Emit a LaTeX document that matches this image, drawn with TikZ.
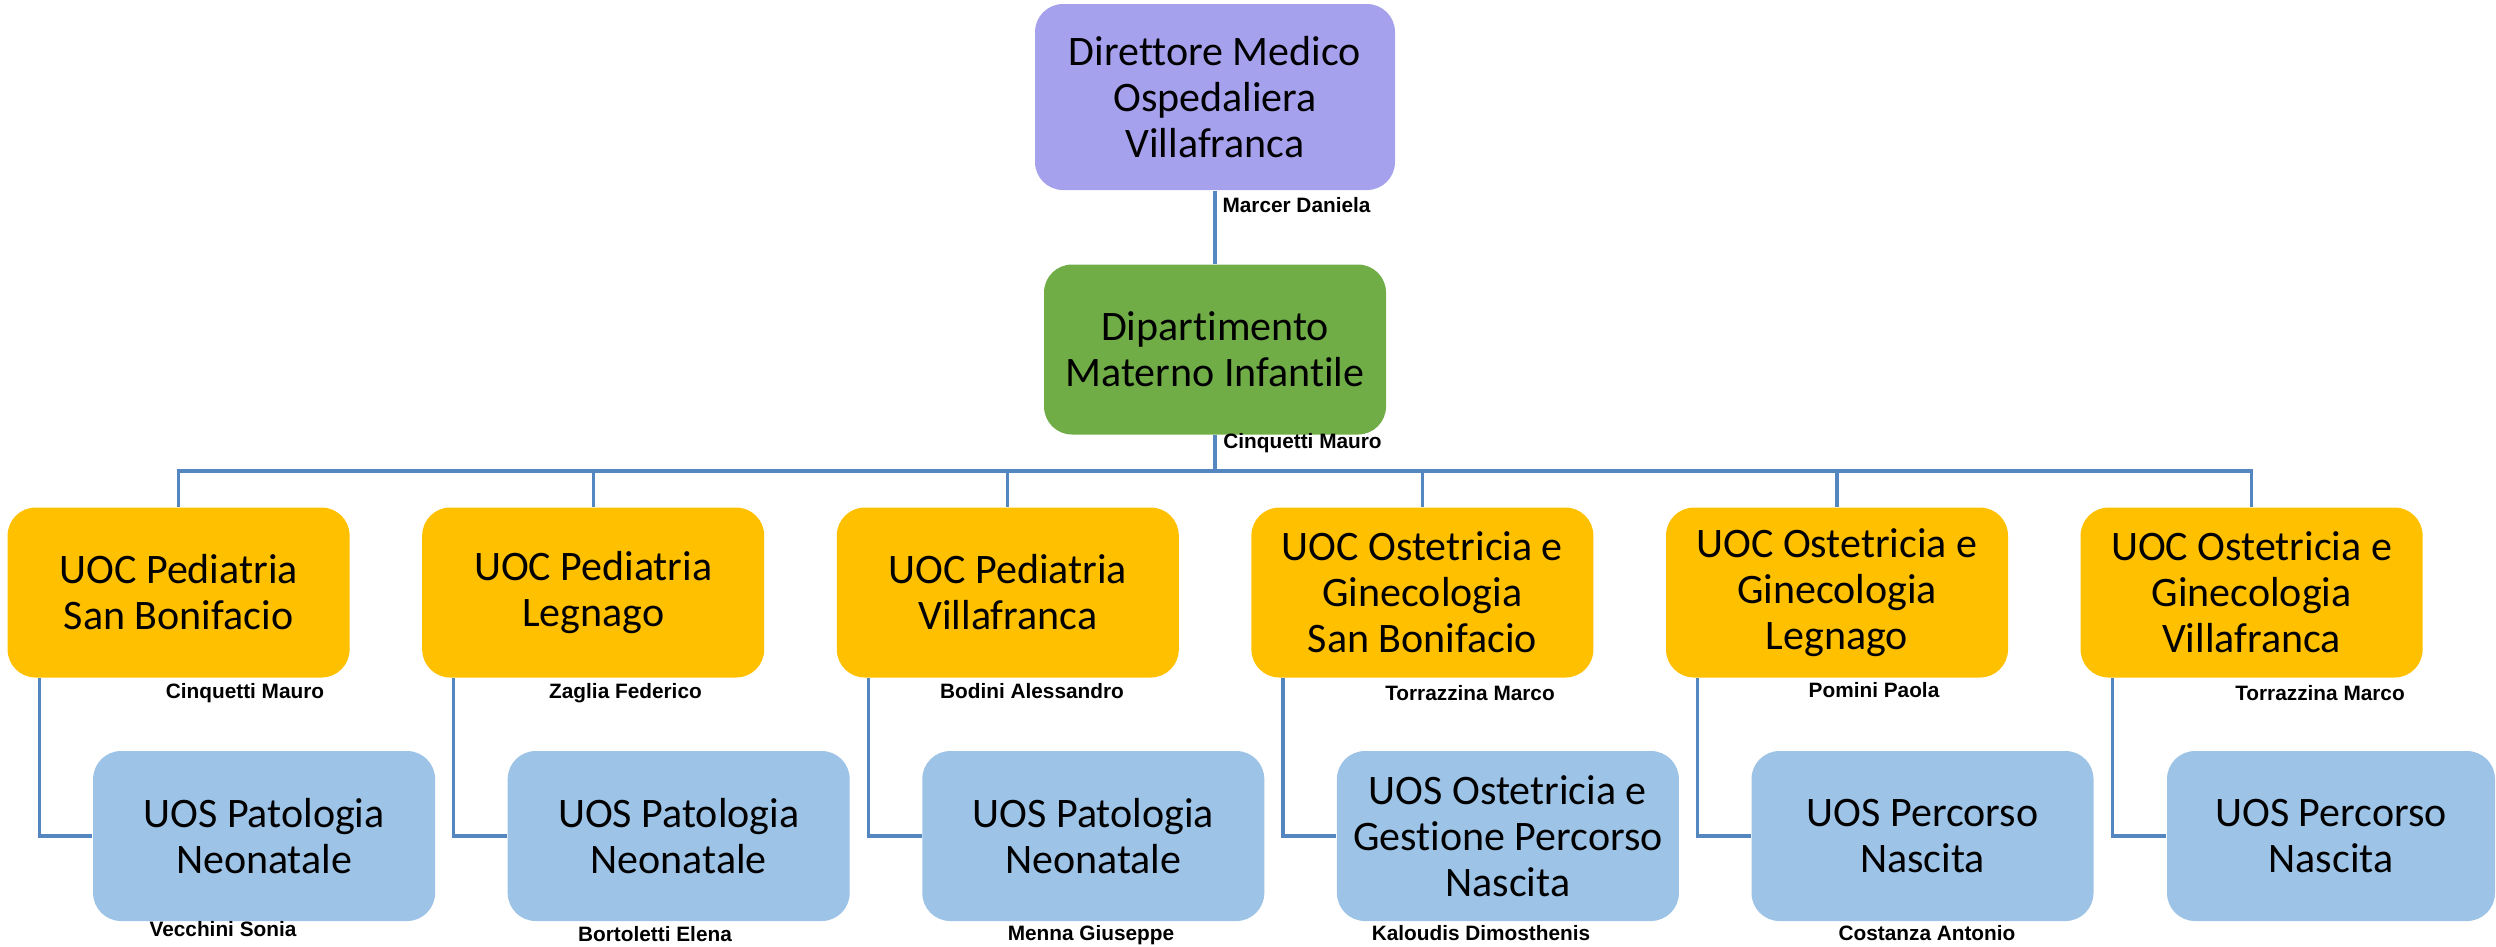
\documentclass[tikz,border=0pt]{standalone}
\usepackage{fontspec}
\setmainfont{Carlito}[Ligatures={NoCommon}]
\newfontfamily\namefont{Liberation Sans}
\definecolor{lavender}{RGB}{166,161,236}
\definecolor{leafgreen}{RGB}{112,173,71}
\definecolor{amber}{RGB}{255,192,0}
\definecolor{skyblue}{RGB}{157,195,230}
\definecolor{linkblue}{RGB}{84,135,192}

\begin{document}
\begin{tikzpicture}[x=0.25pt,y=-0.25pt,
  box/.style={rounded corners=7pt, align=center, inner sep=0pt, minimum width=85.5pt, minimum height=42.5pt, font=\fontsize{10.5}{11.5}\selectfont},
  dmobox/.style={box, fill=lavender, minimum width=90pt, minimum height=46.5pt},
  dipbox/.style={box, fill=leafgreen},
  uocbox/.style={box, fill=amber},
  uosbox/.style={box, fill=skyblue},
  who/.style={anchor=base, inner sep=0pt, font=\namefont\bfseries\fontsize{5.2}{6}\selectfont},
  link/.style={draw=linkblue, line width=0.8pt}]
\useasboundingbox (0,0) rectangle (2496,946);
\node[dmobox] (dmo) at (1215,97) {Direttore Medico\\Ospedaliera\\Villafranca};
\node[dipbox] (dip) at (1215,349.5) {Dipartimento\\Materno Infantile};
\coordinate (bus) at (1215,471);
\node[uocbox] (uoc1) at (178.6,592.5) {UOC Pediatria\\San Bonifacio};
\node[uocbox] (uoc2) at (593.2,592.5) {UOC Pediatria\\Legnago};
\node[uocbox] (uoc3) at (1007.8,592.5) {UOC Pediatria\\Villafranca};
\node[uocbox] (uoc4) at (1422.4,592.5) {UOC Ostetricia e\\Ginecologia\\San Bonifacio};
\node[uocbox] (uoc5) at (1837,592.5) {UOC Ostetricia e\\Ginecologia\\Legnago};
\node[uocbox] (uoc6) at (2251.6,592.5) {UOC Ostetricia e\\Ginecologia\\Villafranca};
\node[uosbox] (uos1) at (264.1,836) {UOS Patologia\\Neonatale};
\node[uosbox] (uos2) at (678.7,836) {UOS Patologia\\Neonatale};
\node[uosbox] (uos3) at (1093.3,836) {UOS Patologia\\Neonatale};
\node[uosbox] (uos4) at (1507.9,836) {UOS Ostetricia e\\Gestione Percorso\\Nascita};
\node[uosbox] (uos5) at (1922.5,836) {UOS Percorso\\Nascita};
\node[uosbox, minimum width=82pt] (uos6) at (2331,836) {UOS Percorso\\Nascita};
\draw[link] (dmo.south) -- (dip.north);
\draw[link] (dip.south) -- (bus);
\foreach \k in {1,...,6} \draw[link] (uoc\k.north) |- (bus);
\foreach \k in {1,...,6} \draw[link] ([xshift=8.1pt]uoc\k.south west) |- (uos\k.west);
\node[who] (nDmo) at (1296.5,212) {Marcer Daniela};
\node[who] (nDip) at (1302.5,448) {Cinquetti Mauro};
\node[who] (nUoc1) at (245,698) {Cinquetti Mauro};
\node[who] (nUoc2) at (625.5,698) {Zaglia Federico};
\node[who] (nUoc3) at (1032,698) {Bodini Alessandro};
\node[who] (nUoc4) at (1470,700) {Torrazzina Marco};
\node[who] (nUoc5) at (1874,697) {Pomini Paola};
\node[who] (nUoc6) at (2320,700) {Torrazzina Marco};
\node[who] (nUos1) at (223,936) {Vecchini Sonia};
\node[who] (nUos2) at (655,941) {Bortoletti Elena};
\node[who] (nUos3) at (1091,940) {Menna Giuseppe};
\node[who] (nUos4) at (1481,940) {Kaloudis Dimosthenis};
\node[who] (nUos5) at (1927,940) {Costanza Antonio};
\end{tikzpicture}
\end{document}
